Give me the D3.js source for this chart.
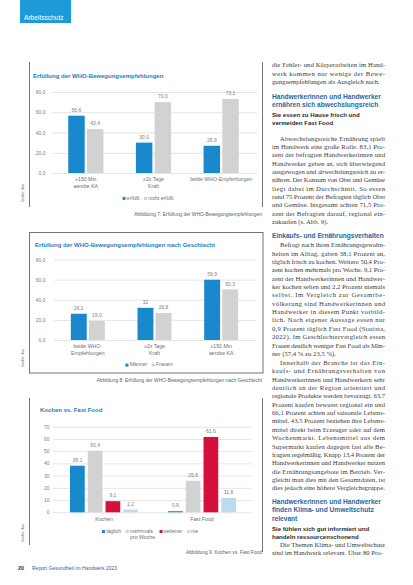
<!DOCTYPE html>
<html><head><meta charset="utf-8">
<script src="https://cdn.jsdelivr.net/npm/d3@7"></script>
<style>html,body{margin:0;padding:0;background:#fff;}svg{display:block;}</style>
</head><body>
<svg id="page" width="413" height="585"></svg>
<script>
// ---------- DATA ----------
const c1Categories = ["≥150 Min\naerobe KA", "≥2x Tage\nKraft", "beide WHO-Empfehlungen"];
const c1Series = ["erfüllt", "nicht erfüllt"];
const c1Erfuellt = [56.6, 30.0, 26.9];
const c1NichtErfuellt = [43.4, 70.0, 73.1];
const c1Ticks = [0, 20, 40, 60, 80];

const c2Categories = ["beide WHO-\nEmpfehlungen", "≥2x Tage\nKraft", "≥150 Min\naerobe KA"];
const c2Series = ["Männer", "Frauen"];
const c2Maenner = [26.1, 32, 59.9];
const c2Frauen = [19.0, 26.8, 50.3];
const c2MaennerLabels = ["26,1", "32", "59,9"];
const c2FrauenLabels = ["19,0", "26,8", "50,3"];
const c2Ticks = [0, 20, 40, 60, 80];

const c3Categories = ["Kochen", "Fast Food"];
const c3Series = ["täglich", "mehrmals\npro Woche", "seltener", "nie"];
const c3Taeglich = [38.1, 0.9];
const c3Mehrmals = [50.4, 25.8];
const c3Seltener = [9.1, 61.6];
const c3Nie = [2.2, 11.8];
const c3Ticks = [0, 10, 20, 30, 40, 50, 60, 70];

const tabLabel = "Arbeitsschutz";
const chartTitles = ["Erfüllung der WHO-Bewegungsempfehlungen",
  "Erfüllung der WHO-Bewegungsempfehlungen nach Geschlecht",
  "Kochen vs. Fast Food"];
const captions = ["Abbildung 7: Erfüllung der WHO-Bewegungsempfehlungen",
  "Abbildung 8: Erfüllung der WHO-Bewegungsempfehlungen nach Geschlecht",
  "Abbildung 9: Kochen vs. Fast Food"];
const sourceNote = "Grafik: ifaa";
const footerNum = "20";
const footerText = "Report Gesundheit im Handwerk 2023";

const para0 = ["die Fehler- und Körperarbeiten im Hand-",
  "werk kommen nur wenige der Bewe-",
  "gungsempfehlungen als Ausgleich nach."];
const head1 = ["Handwerkerinnen und Handwerker", "ernähren sich abwechslungsreich"];
const sub1 = ["Sie essen zu Hause frisch und", "vermeiden Fast Food"];
const para1 = ["Abwechslungsreiche Ernährung spielt",
  "im Handwerk eine große Rolle. 83,1 Pro-",
  "zent der befragten Handwerkerinnen und",
  "Handwerker geben an, sich überwiegend",
  "ausgewogen und abwechslungsreich zu er-",
  "nähren. Der Konsum von Obst und Gemüse",
  "liegt dabei im Durchschnitt. So essen",
  "rund 75 Prozent der Befragten täglich Obst",
  "und Gemüse. Insgesamt achten 71,5 Pro-",
  "zent der Befragten darauf, regional ein-",
  "zukaufen (s. Abb. 9)."];
const head2 = ["Einkaufs- und Ernährungsverhalten"];
const para2 = ["Befragt nach ihren Ernährungsgewohn-",
  "heiten im Alltag, gaben 38,1 Prozent an,",
  "täglich frisch zu kochen. Weitere 50,4 Pro-",
  "zent kochen mehrmals pro Woche. 9,1 Pro-",
  "zent der Handwerkerinnen und Handwer-",
  "ker kochen selten und 2,2 Prozent niemals",
  "selbst. Im Vergleich zur Gesamtbe-",
  "völkerung sind Handwerkerinnen und",
  "Handwerker in diesem Punkt vorbild-",
  "lich. Nach eigener Aussage essen nur",
  "0,9 Prozent täglich Fast Food (Statista,",
  "2022). Im Geschlechtervergleich essen",
  "Frauen deutlich weniger Fast Food als Män-",
  "ner (57,4 % zu 23,5 %)."];
const para3 = ["Innerhalb der Branche ist das Ein-",
  "kaufs- und Ernährungsverhalten von",
  "Handwerkerinnen und Handwerkern sehr",
  "deutlich an der Region orientiert und",
  "regionale Produkte werden bevorzugt. 63,7",
  "Prozent kaufen bewusst regional ein und",
  "66,1 Prozent achten auf saisonale Lebens-",
  "mittel. 43,5 Prozent beziehen ihre Lebens-",
  "mittel direkt beim Erzeuger oder auf dem",
  "Wochenmarkt. Lebensmittel aus dem",
  "Supermarkt kaufen dagegen fast alle Be-",
  "fragten regelmäßig. Knapp 13,4 Prozent der",
  "Handwerkerinnen und Handwerker nutzen",
  "die Ernährungsangebote im Betrieb. Ver-",
  "gleicht man dies mit den Gesamtdaten, ist",
  "dies jedoch eine höhere Vergleichsgruppe."];
const head3 = ["Handwerkerinnen und Handwerker", "finden Klima- und Umweltschutz", "relevant"];
const sub3 = ["Sie fühlen sich gut informiert und", "handeln ressourcenschonend"];
const para4 = ["Die Themen Klima- und Umweltschutz", "sind im Handwerk relevant. Über 80 Pro-"];

// ---------- STYLE ----------
const BLUE = "#1a88cc", GRAY = "#d2d2d2", RED = "#d5103c", LBLUE = "#bcdbf0";
const TITLE_BLUE = "#2a7cbf", HEAD_BLUE = "#1f67a6";
const SANS = "'Liberation Sans', Arial, sans-serif", SERIF = "'Liberation Serif', 'Times New Roman', serif";
const fmt1 = v => d3.format(".1f")(v).replace(".", ",");

const svg = d3.select("#page");
svg.append("rect").attr("width", 413).attr("height", 585).attr("fill", "#fff");

// tab
svg.append("rect").attr("x", 20).attr("y", 0).attr("width", 51).attr("height", 23).attr("fill", "#1e9ad8");
svg.append("text").attr("x", 24).attr("y", 19.5).attr("font-family", SANS).attr("font-size", 6.6)
  .attr("fill", "#fff").text(tabLabel);

function line(x1, y1, x2, y2, c) {
  svg.append("line").attr("x1", x1).attr("y1", y1).attr("x2", x2).attr("y2", y2)
    .attr("stroke", c || "#666").attr("stroke-width", 0.9);
}

function multiText(g, str, x, y, lh, attrs) {
  const t = g.append("text").attr("x", x).attr("y", y);
  Object.entries(attrs).forEach(([k, v]) => t.attr(k, v));
  str.split("\n").forEach((s, i) => t.append("tspan").attr("x", x).attr("dy", i ? lh : 0).text(s));
  return t;
}

function barChart(o) {
  const g = svg.append("g");
  const y = d3.scaleLinear().domain(o.yDomain).range(o.yRange);
  const x0 = d3.scaleBand().domain(o.categories).range(o.xRange).paddingInner(o.padIn).paddingOuter(o.padOut);
  const x1 = d3.scaleBand().domain(o.series).range([0, x0.bandwidth()]).paddingInner(o.seriesPad);
  const ax = g.append("g").attr("transform", `translate(${o.gridX[0]},0)`)
    .call(d3.axisLeft(y).tickValues(o.ticks).tickFormat(o.tickFmt)
      .tickSize(-(o.gridX[1] - o.gridX[0])).tickPadding(o.tickPad));
  ax.select(".domain").remove();
  ax.selectAll("line").attr("stroke", "#dedede").attr("stroke-width", 0.8);
  ax.selectAll("text").attr("font-family", SANS).attr("font-size", 5).attr("fill", "#808080");
  o.series.forEach((s, si) => {
    o.categories.forEach((c, ci) => {
      const v = o.values[si][ci];
      const bx = x0(c) + x1(s);
      g.append("rect").attr("x", bx).attr("y", y(v)).attr("width", x1.bandwidth())
        .attr("height", y(0) - y(v)).attr("fill", o.colors[si]);
      g.append("text").attr("x", bx + x1.bandwidth() / 2).attr("y", y(v) - 3.8)
        .attr("text-anchor", "middle").attr("font-family", SANS).attr("font-size", 5)
        .attr("fill", "#808080").text(o.labels ? o.labels[si][ci] : fmt1(v));
    });
  });
  o.categories.forEach(c => {
    multiText(g, c, x0(c) + x0.bandwidth() / 2, o.catY, 6.8,
      {"text-anchor": "middle", "font-family": SANS, "font-size": 5.2, "fill": "#707070"});
  });
  const lg = g.append("g");
  let cx = 0;
  o.series.forEach((s, si) => {
    lg.append("rect").attr("x", cx).attr("y", -2.6).attr("width", 3).attr("height", 3).attr("fill", o.colors[si]);
    const t = multiText(lg, s, cx + 4.3, 0, 6.6, {"font-family": SANS, "font-size": 5.2, "fill": "#707070"});
    let w = 0;
    t.selectAll("tspan").each(function () { w = Math.max(w, this.getComputedTextLength()); });
    cx += 4.3 + w + 4.5;
  });
  lg.attr("transform", `translate(${o.legendCx - (cx - 4.5) / 2},${o.legendY})`);
  svg.append("text").attr("x", o.titleX).attr("y", o.titleY).attr("font-family", SANS)
    .attr("font-weight", "bold").attr("font-size", 6).attr("fill", TITLE_BLUE).text(o.title);
  svg.append("text").attr("x", 262).attr("y", o.capY).attr("text-anchor", "end").attr("font-family", SANS)
    .attr("font-size", 4.9).attr("fill", "#606060").text(o.caption);
  svg.append("text").attr("transform", `translate(23.5,${o.noteY}) rotate(-90)`).attr("text-anchor", "middle")
    .attr("font-family", SANS).attr("font-size", 3.8).attr("fill", "#666").text(sourceNote);
}

line(29.5, 62, 29.5, 207); line(262.5, 62, 262.5, 207);
barChart({
  categories: c1Categories, series: c1Series, values: [c1Erfuellt, c1NichtErfuellt],
  colors: [BLUE, GRAY], yDomain: [0, 80], yRange: [173, 92], xRange: [52, 255],
  padIn: 0.48, padOut: 0.24, seriesPad: 0.12, ticks: c1Ticks, tickFmt: fmt1,
  gridX: [52, 257], tickPad: 6.5, catY: 181, legendCx: 148, legendY: 199.5,
  title: chartTitles[0], titleX: 33, titleY: 78.2, caption: captions[0], capY: 215.8, noteY: 193
});

svg.append("rect").attr("x", 29.5).attr("y", 232.5).attr("width", 233.5).attr("height", 140.5)
  .attr("fill", "none").attr("stroke", "#666").attr("stroke-width", 0.9);
barChart({
  categories: c2Categories, series: c2Series, values: [c2Maenner, c2Frauen],
  labels: [c2MaennerLabels, c2FrauenLabels],
  colors: [BLUE, GRAY], yDomain: [0, 80], yRange: [340, 259.5], xRange: [54.5, 254.5],
  padIn: 0.49, padOut: 0.245, seriesPad: 0.12, ticks: c2Ticks, tickFmt: fmt1,
  gridX: [54, 256], tickPad: 8.5, catY: 348, legendCx: 149, legendY: 366.2,
  title: chartTitles[1], titleX: 35, titleY: 246.5, caption: captions[1], capY: 381.8, noteY: 358
});

line(29.5, 398, 29.5, 545); line(262.5, 398, 262.5, 552);
barChart({
  categories: c3Categories, series: c3Series, values: [c3Taeglich, c3Mehrmals, c3Seltener, c3Nie],
  colors: [BLUE, GRAY, RED, LBLUE], yDomain: [0, 70], yRange: [512.3, 426.7], xRange: [55, 251],
  padIn: 0.306, padOut: 0.153, seriesPad: 0.17, ticks: c3Ticks, tickFmt: d3.format("d"),
  gridX: [53, 252], tickPad: 3.5, catY: 521, legendCx: 150, legendY: 532.6,
  title: chartTitles[2], titleX: 40, titleY: 412.2, caption: captions[2], capY: 553.8, noteY: 533
});

svg.append("text").attr("x", 18).attr("y", 570).attr("font-family", SANS).attr("font-size", 5.6)
  .attr("font-weight", "bold").attr("fill", "#333").text(footerNum);
svg.append("text").attr("x", 32).attr("y", 570).attr("font-family", SANS).attr("font-size", 5)
  .attr("fill", "#1f67a6").text(footerText);

const COLX = 272, COLR = 385, LH = 8.36;
function para(lines, yc, indent) {
  lines.forEach((s, i) => {
    const x = (i === 0 && indent) ? 280 : COLX;
    const t = svg.append("text").attr("x", x).attr("y", yc + i * LH + 2.2).attr("font-family", SERIF)
      .attr("font-size", 6.7).attr("fill", "#3c3c3c").text(s);
    if (i < lines.length - 1) t.attr("textLength", COLR - x).attr("lengthAdjust", "spacing");
  });
}
function heading(lines, yc, step) {
  lines.forEach((s, i) => svg.append("text").attr("x", COLX).attr("y", yc + i * step + 2.4)
    .attr("font-family", SANS).attr("font-weight", "bold").attr("font-size", 6.6)
    .attr("fill", HEAD_BLUE).text(s));
}
function subhead(lines, yc, step) {
  lines.forEach((s, i) => svg.append("text").attr("x", COLX).attr("y", yc + i * step + 2.3)
    .attr("font-family", SANS).attr("font-weight", "bold").attr("font-size", 6.1)
    .attr("fill", "#2a2a2a").text(s));
}
para(para0, 65, false);
heading(head1, 96.7, 7.7);
subhead(sub1, 115, 7.7);
para(para1, 138.3, true);
heading(head2, 235.7, 8);
para(para2, 245, true);
para(para3, 362.7, true);
heading(head3, 501.7, 8.3);
subhead(sub3, 528.3, 8.4);
para(para4, 544.3, true);
</script></body></html>
